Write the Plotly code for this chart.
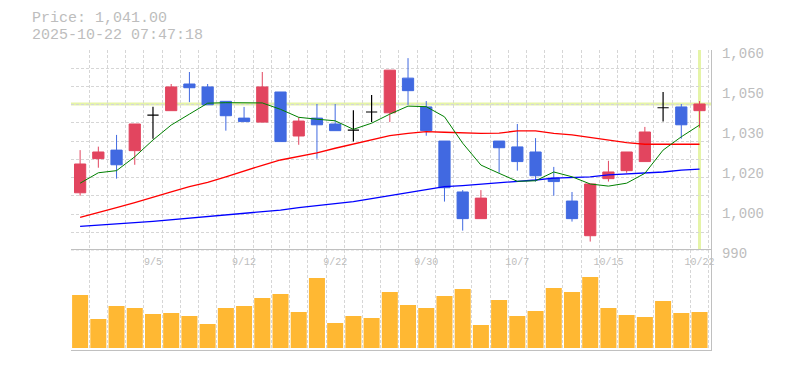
import plotly.graph_objects as go

# ---------------- data ----------------
dates = ["9/1", "9/2", "9/3", "9/4", "9/5", "9/8", "9/9", "9/10", "9/11", "9/12",
         "9/16", "9/17", "9/18", "9/19", "9/22", "9/24", "9/25", "9/26", "9/29", "9/30",
         "10/1", "10/2", "10/3", "10/6", "10/7", "10/8", "10/9", "10/10", "10/14", "10/15",
         "10/16", "10/17", "10/20", "10/21", "10/22"]

opens = [1007.7, 1020.5, 1023.7, 1023.5, 1036.8, 1038.5, 1048.5, 1047.4, 1042.0, 1035.7,
         1034.2, 1045.5, 1029.0, 1035.7, 1033.5, 1031.2, 1038.0, 1037.7, 1050.7, 1039.9,
         1027.1, 1008.0, 998.0, 1027.1, 1024.9, 1023.0, 1013.2, 1004.6, 991.6, 1013.0,
         1016.0, 1019.4, 1039.6, 1039.9, 1038.5]
highs = [1023.7, 1025.0, 1029.4, 1033.5, 1040.0, 1048.5, 1053.0, 1048.5, 1042.0, 1039.9,
         1053.0, 1045.5, 1036.0, 1041.0, 1041.0, 1038.7, 1044.4, 1053.7, 1058.2, 1042.1,
         1027.1, 1008.7, 1008.7, 1027.1, 1033.5, 1028.2, 1017.4, 1008.0, 1011.0, 1019.7,
         1023.0, 1032.4, 1045.5, 1041.0, 1042.1]
lows = [1006.6, 1017.1, 1013.0, 1018.2, 1028.0, 1038.5, 1041.7, 1040.7, 1031.0, 1034.4,
        1034.2, 1026.9, 1025.7, 1020.5, 1031.0, 1026.9, 1034.2, 1034.2, 1040.7, 1029.1,
        1004.4, 993.5, 998.0, 1015.2, 1016.0, 1011.9, 1006.6, 996.9, 989.4, 1011.9,
        1015.2, 1019.4, 1034.4, 1028.0, 1032.1]
closes = [1018.5, 1023.0, 1018.2, 1033.5, 1036.8, 1047.4, 1047.1, 1040.7, 1036.6, 1034.4,
          1047.4, 1026.9, 1034.6, 1033.2, 1031.0, 1031.2, 1038.0, 1053.7, 1046.0, 1031.0,
          1009.6, 998.0, 1005.7, 1024.6, 1019.4, 1014.1, 1011.9, 998.0, 1011.0, 1015.5,
          1023.0, 1030.5, 1039.6, 1033.2, 1041.0]

ma_short = [1011.3, 1015.2, 1016.0, 1021.2, 1027.5, 1033.1, 1037.2, 1041.3, 1041.5, 1041.4,
            1041.4, 1039.0, 1036.0, 1035.3, 1034.7, 1031.5, 1033.8, 1037.2, 1040.2, 1040.0,
            1036.2, 1026.3, 1018.1, 1015.0, 1012.0, 1012.2, 1015.5, 1013.7, 1011.0, 1010.2,
            1011.3, 1015.0, 1023.7, 1028.7, 1033.1]
ma_mid = [998.5, 1000.2, 1002.1, 1004.0, 1005.9, 1008.0, 1010.0, 1011.6, 1013.7, 1015.9,
          1018.0, 1020.0, 1021.4, 1022.7, 1024.4, 1026.0, 1027.5, 1029.1, 1030.0, 1030.6,
          1030.4, 1030.1, 1030.0, 1030.1, 1030.9, 1030.9, 1030.0, 1029.4, 1028.4, 1027.5,
          1026.5, 1025.9, 1025.9, 1025.9, 1025.9]
ma_long = [995.1, 995.5, 996.1, 996.5, 997.0, 997.6, 998.2, 998.7, 999.3, 999.9,
           1000.6, 1001.2, 1002.1, 1002.9, 1003.6, 1004.4, 1005.5, 1006.6, 1007.7, 1008.9,
           1010.0, 1010.4, 1010.9, 1011.3, 1011.8, 1012.5, 1013.2, 1013.5, 1013.7, 1014.4,
           1014.7, 1015.0, 1015.5, 1016.2, 1016.6]

volumes = [53, 29, 42, 40, 34, 35, 32, 24, 40, 42,
           50, 54, 36, 70, 25, 32, 30, 56, 43, 40,
           52, 59, 23, 48, 32, 37, 60, 56, 71, 40,
           33, 31, 47, 35, 36]

x_tick_labels = ["9/5", "9/12", "9/22", "9/30", "10/7", "10/15", "10/22"]
y_tick_values = [985, 1000, 1015, 1030, 1045, 1060]
y_tick_labels = ["990", "1,000", "1,020", "1,030", "1,050", "1,060"]

price_text = "Price: 1,041.00"
time_text = "2025-10-22 07:47:18"
last_price = 1041.0

# ---------------- styling ----------------
RED = "#e2455f"
BLUE = "#4169e1"
ORANGE = "#ffb833"
GRID = "#d6d6d6"
FRAME = "#c0c0c0"
TEXT = "#bdbdbd"
HILITE = "#e5f4a8"
FONT = "Liberation Mono"

xs = list(range(len(dates)))
is_doji = [o == c for o, c in zip(opens, closes)]


def pick(vals, keep):
    return [v if k else None for v, k in zip(vals, keep)]


normal = [not d for d in is_doji]

fig = go.Figure()

fig.add_trace(go.Scatter(x=xs, y=ma_long, mode="lines", line=dict(color="#0000ff", width=1.3),
                         xaxis="x", yaxis="y", hoverinfo="skip"))
fig.add_trace(go.Scatter(x=xs, y=ma_mid, mode="lines", line=dict(color="#ff0000", width=1.3),
                         xaxis="x", yaxis="y", hoverinfo="skip"))
fig.add_trace(go.Scatter(x=xs, y=ma_short, mode="lines", line=dict(color="#008000", width=1),
                         xaxis="x", yaxis="y", hoverinfo="skip"))

fig.add_trace(go.Candlestick(
    x=xs, open=pick(opens, normal), high=pick(highs, normal),
    low=pick(lows, normal), close=pick(closes, normal),
    increasing=dict(line=dict(color=RED, width=1), fillcolor=RED),
    decreasing=dict(line=dict(color=BLUE, width=1), fillcolor=BLUE),
    whiskerwidth=0, xaxis="x", yaxis="y"))
fig.add_trace(go.Candlestick(
    x=xs, open=pick(opens, is_doji), high=pick(highs, is_doji),
    low=pick(lows, is_doji), close=pick(closes, is_doji),
    increasing=dict(line=dict(color="#000000", width=1.2), fillcolor="#000000"),
    decreasing=dict(line=dict(color="#000000", width=1.2), fillcolor="#000000"),
    whiskerwidth=0, xaxis="x", yaxis="y"))

fig.add_trace(go.Bar(x=xs, y=volumes, marker=dict(color=ORANGE, line=dict(width=0)),
                     xaxis="x2", yaxis="y2", hoverinfo="skip"))

# invisible helper traces so that the overlay (label) axes are drawn
fig.add_trace(go.Scatter(x=[xs[0], xs[-1]], y=[min(lows), max(highs)], mode="markers",
                         marker=dict(opacity=0), xaxis="x", yaxis="y3", hoverinfo="skip"))
fig.add_trace(go.Scatter(x=[xs[0], xs[-1]], y=[0, max(volumes)], mode="markers",
                         marker=dict(opacity=0), xaxis="x3", yaxis="y2", hoverinfo="skip"))

# axis geometry
xr = [-0.5, len(dates) - 1 + 0.63]
price_range = [984.74, 1061.25]
grid_tick0 = 986.05
grid_step = 6.836
price_dom = [0.32, 1.0]
vol_dom = [0.0, 0.3317]

fig.update_layout(
    width=777, height=362,
    margin=dict(l=63, r=74, t=42, b=20),
    paper_bgcolor="white", plot_bgcolor="white",
    showlegend=False,
    boxgap=0.12, bargap=0.12,
    font=dict(family=FONT, color=TEXT),
    xaxis=dict(domain=[0, 1], anchor="y", range=xr, tick0=-0.5, dtick=1,
               showgrid=True, gridcolor=GRID, griddash="3px,2px", gridwidth=1,
               showticklabels=False, ticks="", zeroline=False, showline=False,
               rangeslider=dict(visible=False), fixedrange=True),
    xaxis2=dict(domain=[0, 1], anchor="y2", range=xr, tick0=-0.5, dtick=1,
                showgrid=True, gridcolor=GRID, griddash="3px,2px", gridwidth=1,
                showticklabels=False, ticks="", zeroline=False,
                showline=True, mirror=True, linecolor=FRAME, linewidth=1.3),
    xaxis3=dict(overlaying="x2", anchor="free", position=vol_dom[1], side="bottom",
                range=xr, tickmode="array",
                tickvals=[dates.index(t) for t in x_tick_labels],
                ticktext=x_tick_labels, ticklabelstandoff=4,
                showgrid=False, zeroline=False, showline=False, ticks="",
                tickfont=dict(family=FONT, size=10, color=TEXT)),
    yaxis=dict(domain=price_dom, anchor="x", range=price_range,
               tick0=grid_tick0, dtick=grid_step, showgrid=True, gridcolor=GRID,
               griddash="3px,2px", gridwidth=1, showticklabels=False, ticks="",
               zeroline=False, showline=False),
    yaxis3=dict(overlaying="y", anchor="x", side="right", range=price_range,
                tickmode="array", tickvals=y_tick_values, ticktext=y_tick_labels,
                showgrid=False, zeroline=False, showline=True, linecolor=FRAME,
                linewidth=1.3, ticks="", ticklabelstandoff=7,
                tickfont=dict(family=FONT, size=14, color=TEXT)),
    yaxis2=dict(domain=vol_dom, anchor="x2", side="right", range=[-2, 97.5],
                showgrid=False, showticklabels=False, ticks="", zeroline=False,
                showline=True, linecolor=FRAME, linewidth=1.3),
)

fig.add_shape(type="line", xref="x domain", yref="y", x0=0, x1=1,
              y0=last_price, y1=last_price, layer="below",
              line=dict(color=HILITE, width=3))
fig.add_shape(type="line", xref="x", yref="y domain", x0=xs[-1], x1=xs[-1],
              y0=0.0245, y1=1, layer="below", line=dict(color=HILITE, width=3))

header = ('<span style="font-size:15px">' + price_text + '</span><br>'
          '<span style="font-size:15px">' + time_text + '</span>')
fig.add_annotation(text=header, xref="paper", yref="paper", x=-0.0648, y=1.141,
                   xanchor="left", yanchor="top", align="left", showarrow=False,
                   font=dict(family=FONT, size=13.1, color=TEXT))

fig.write_html("out.html")
